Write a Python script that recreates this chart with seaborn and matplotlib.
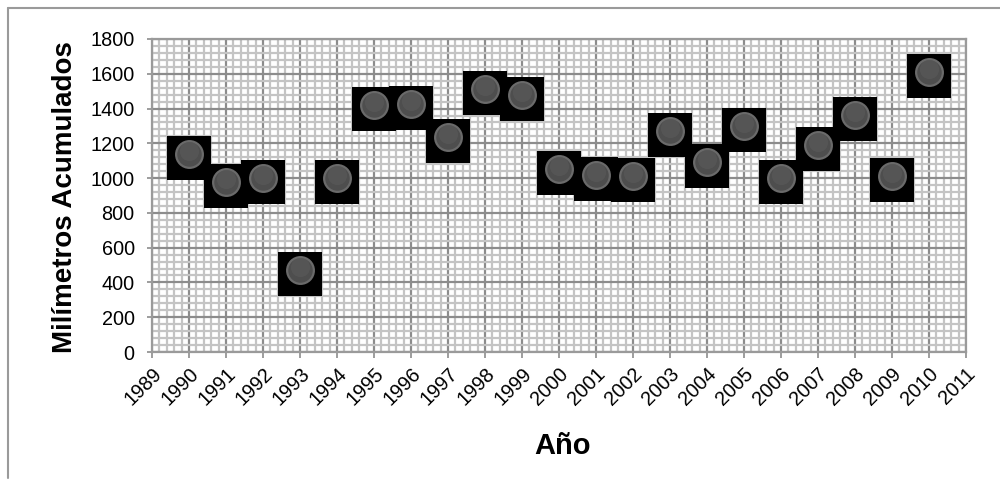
import matplotlib
matplotlib.use("Agg")
import matplotlib.pyplot as plt
import matplotlib.transforms as mtransforms
from matplotlib.ticker import MultipleLocator
from matplotlib.lines import Line2D
import seaborn as sns
import pandas as pd

years = [1990, 1991, 1992, 1993, 1994, 1995, 1996, 1997, 1998, 1999, 2000,
         2001, 2002, 2003, 2004, 2005, 2006, 2007, 2008, 2009, 2010]
mm = [1138, 977, 1003, 469, 1003, 1421, 1427, 1239, 1515, 1479, 1053,
      1019, 1015, 1272, 1090, 1297, 1003, 1191, 1364, 1015, 1609]
x_ticks = list(range(1989, 2012))
y_ticks = list(range(0, 2000, 200))
x_label = "Año"
y_label = "Milímetros Acumulados"

df = pd.DataFrame({"year": years, "mm": mm})

sns.set_theme(style="white")
plt.rcParams["font.family"] = ["Liberation Sans", "DejaVu Sans"]
plt.rcParams["text.color"] = "black"

fig = plt.figure(figsize=(10, 4.88), dpi=100)
ax = fig.add_axes([0.152, 1 - 352 / 488, 0.966 - 0.152, (352 - 39) / 488])

# squares (slightly offset downward)
sns.scatterplot(data=df, x="year", y="mm", marker="s", s=1000, color="black",
                linewidth=0, ax=ax, zorder=3, legend=False)
sq = ax.collections[-1]
sq.set_offset_transform(ax.transData + mtransforms.ScaledTranslation(0, -4 / 100, fig.dpi_scale_trans))

# circles
sns.scatterplot(data=df, x="year", y="mm", marker="o", s=370, color="#4e4e4e",
                edgecolor="#6a6a6a", linewidth=1.6, ax=ax, zorder=4, legend=False)
sns.scatterplot(data=df, x="year", y="mm", marker="o", s=190, color="#585858",
                linewidth=0, ax=ax, zorder=5, legend=False, alpha=0.8)
hi = ax.collections[-1]
hi.set_offset_transform(ax.transData + mtransforms.ScaledTranslation(0, 3 / 100, fig.dpi_scale_trans))

ax.set_xlim(1989, 2011)
ax.set_ylim(0, 1800)
ax.set_xticks(x_ticks)
ax.set_xticklabels([str(t) for t in x_ticks], rotation=45, ha="right",
                   rotation_mode="anchor", fontsize=14.3, color="black")
ax.set_yticks(y_ticks)
ax.set_yticklabels([str(t) for t in y_ticks], fontsize=14.3, color="black")
ax.xaxis.set_minor_locator(MultipleLocator(0.2))
ax.yaxis.set_minor_locator(MultipleLocator(40))

ax.grid(which="minor", color="#c4c4c4", linewidth=1.6, zorder=0)
ax.grid(which="major", color="#8c8c8c", linewidth=1.6, zorder=1)
ax.set_axisbelow(True)

ax.tick_params(axis="y", which="major", length=3.5, width=1.2, color="#8c8c8c",
               direction="out", left=True, pad=9)
ax.tick_params(axis="x", which="major", length=4.5, width=1.2, color="#8c8c8c",
               direction="out", bottom=True, pad=4)
ax.tick_params(axis="both", which="minor", length=0)
for s in ax.spines.values():
    s.set_color("#9a9a9a")
    s.set_linewidth(1.6)

ax.set_xlabel("")
ax.set_ylabel("")
fig.text(0.563, 1 - 446 / 488, x_label, fontsize=21, fontweight="bold",
         ha="center", va="center", color="black")
fig.text(0.065, 1 - 197 / 488, y_label, fontsize=20, fontweight="bold",
         ha="center", va="center", rotation=90, color="black")

# outer chart frame (left/top visible)
fig.add_artist(Line2D([0.008, 0.008], [1 - 8 / 488, 1 - 478 / 488],
                      transform=fig.transFigure, color="#9a9a9a", linewidth=1.5))
fig.add_artist(Line2D([0.008, 1.0], [1 - 8 / 488, 1 - 8 / 488],
                      transform=fig.transFigure, color="#9a9a9a", linewidth=1.5))

fig.savefig("out.png", dpi=100)
